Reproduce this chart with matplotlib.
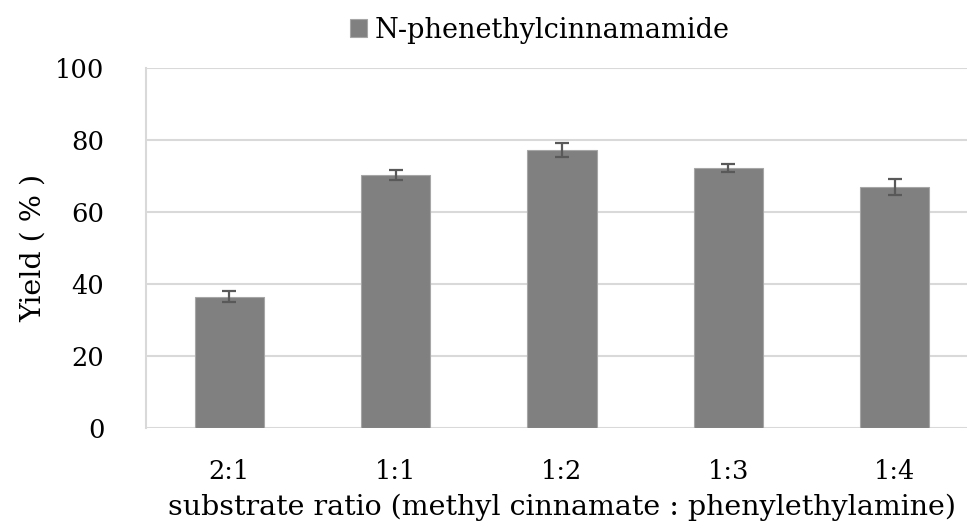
import numpy as np
import matplotlib
matplotlib.use("Agg")
import matplotlib.pyplot as plt

# data
ratios = ["2:1", "1:1", "1:2", "1:3", "1:4"]
yield_pct = [36.5, 70.2, 77.3, 72.2, 67.0]
yield_err = [1.5, 1.4, 1.9, 1.2, 2.2]
series_name = "N-phenethylcinnamamide"

plt.rcParams['font.family'] = ['DejaVu Serif']

fig = plt.figure(figsize=(9.67, 5.31), dpi=100)
ax = fig.add_axes([146 / 967, 1 - 428 / 531, 832 / 967, 360 / 531])

x = np.arange(len(ratios))
ax.bar(x, yield_pct, width=0.415, color='#808080', edgecolor='#a6a6a6',
       linewidth=0.8, label=series_name, zorder=2)
ax.errorbar(x, yield_pct, yerr=yield_err, fmt='none', ecolor='#595959',
            elinewidth=1.6, capsize=5, capthick=1.6, zorder=3)

ax.set_xlim(-0.5, 4.5)
ax.set_ylim(0, 100)
ax.set_yticks(range(0, 101, 20))
ax.set_xticks(x)
ax.set_xticklabels(ratios)
ax.grid(axis='y', color='#d9d9d9', linewidth=1.5, zorder=0)
ax.set_axisbelow(True)
for s in ['top', 'right', 'bottom']:
    ax.spines[s].set_visible(False)
ax.spines['left'].set_color('#d9d9d9')
ax.spines['left'].set_linewidth(1.5)
ax.tick_params(axis='both', length=0, labelsize=18.5)
ax.tick_params(axis='y', pad=30)
ax.tick_params(axis='x', pad=22)

ax.set_ylabel("Yield ( % )", fontsize=20.5, labelpad=6)
ax.set_xlabel("substrate ratio (methyl cinnamate : phenylethylamine)", fontsize=20.5, labelpad=7)

fig.legend(loc='center', bbox_to_anchor=(540 / 967, 1 - 30 / 531), frameon=False,
           fontsize=19.5, handlelength=0.6, handleheight=0.6, handletextpad=0.3)

fig.savefig("out.png", dpi=100)
